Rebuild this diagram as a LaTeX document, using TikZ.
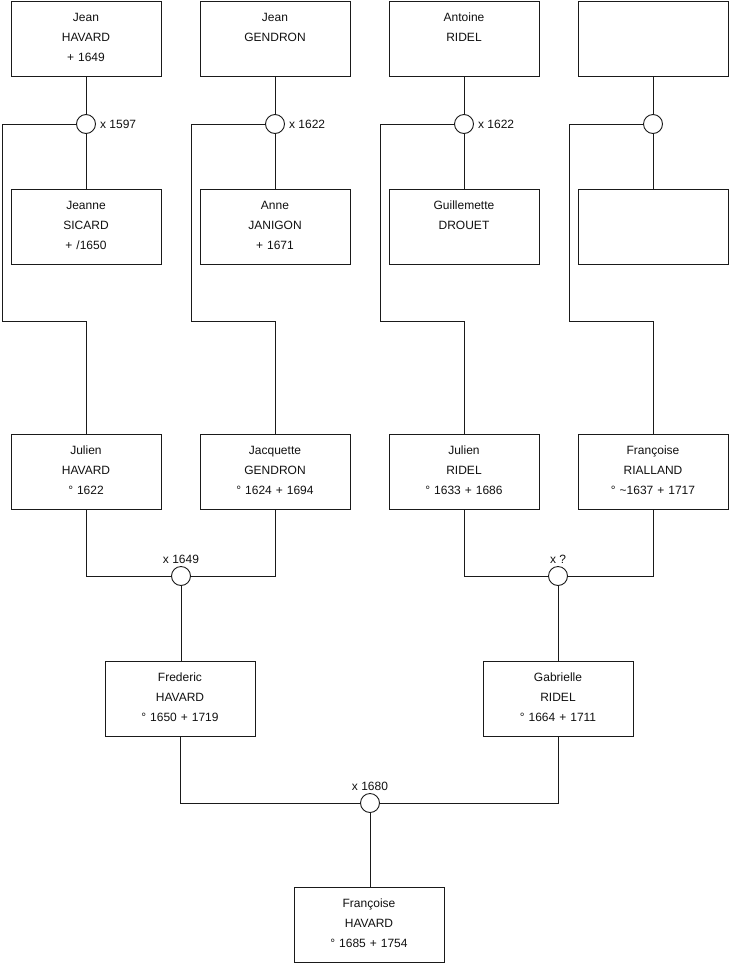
\documentclass[tikz,border=0pt]{standalone}
\usepackage{fontspec}
\setmainfont{Liberation Sans}
\usepackage{xcolor}
\usepackage{tikz}
\usetikzlibrary{calc,positioning}
\definecolor{linec}{HTML}{1A1A1A}
\definecolor{textc}{HTML}{111111}
\tikzset{
  pers/.style={draw=linec,line width=0.9pt,fill=white,anchor=north,inner sep=0pt,
    text width=150pt,minimum height=75pt,text height=20.5pt,text depth=54.5pt,
    align=center,text=textc,font=\fontsize{12}{20}\selectfont},
  wed/.style={draw=linec,line width=0.9pt,fill=white,circle,inner sep=0pt,minimum size=19pt},
  lab/.style={text=textc,font=\fontsize{12}{14}\selectfont,inner sep=2pt},
  ln/.style={draw=linec,line width=0.9pt}
}
\begin{document}
\begin{tikzpicture}[x=1pt,y=-1pt]
\useasboundingbox[fill=white] (0,0) rectangle (740,975);
% ancestors
\node[pers] (jeanH) at (86,1) {Jean\\HAVARD\\+ 1649};
\node[pers] (jeanG) at (275,1) {Jean\\GENDRON};
\node[pers] (antR) at (464,1) {Antoine\\RIDEL};
\node[pers] (topX) at (653,1) {};
\node[pers] (jeanneS) at (86,189) {Jeanne\\SICARD\\+ /1650};
\node[pers] (anneJ) at (275,189) {Anne\\JANIGON\\+ 1671};
\node[pers] (guilD) at (464,189) {Guillemette\\DROUET};
\node[pers] (botX) at (653,189) {};
\node[pers] (julH) at (86,434) {Julien\\HAVARD\\° 1622};
\node[pers] (jacG) at (275,434) {Jacquette\\GENDRON\\° 1624 + 1694};
\node[pers] (julR) at (464,434) {Julien\\RIDEL\\° 1633 + 1686};
\node[pers] (franR) at (653,434) {Françoise\\RIALLAND\\° \textasciitilde1637 + 1717};
\node[pers] (fredH) at (180,661) {Frederic\\HAVARD\\° 1650 + 1719};
\node[pers] (gabR) at (558,661) {Gabrielle\\RIDEL\\° 1664 + 1711};
\node[pers] (franH) at (369,887) {Françoise\\HAVARD\\° 1685 + 1754};
% marriages
\node[wed,label={[lab,inner sep=4pt]right:x 1597}] (m1) at (86,124) {};
\node[wed,label={[lab,inner sep=4pt]right:x 1622}] (m2) at (275,124) {};
\node[wed,label={[lab,inner sep=4pt]right:x 1622}] (m3) at (464,124) {};
\node[wed] (m4) at (653,124) {};
\node[wed,label={[lab]above:x 1649}] (m5) at (181,576) {};
\node[wed,label={[lab]above:x ?}] (m6) at (558,576) {};
\node[wed,label={[lab]above:x 1680}] (m7) at (370,803) {};
\coordinate (k1) at (2,321);
\coordinate (k2) at (191,321);
\coordinate (k3) at (380,321);
\coordinate (k4) at (569,321);
% links
\foreach \a/\m/\b/\k/\c in {jeanH/m1/jeanneS/k1/julH,jeanG/m2/anneJ/k2/jacG,
    antR/m3/guilD/k3/julR,topX/m4/botX/k4/franR}{
  \draw[ln] (\a) -- (\m) -- (\b);
  \draw[ln] (\m.west) -| (\k) -| (\c.north);
}
\draw[ln] (julH.south) |- (m5.west);
\draw[ln] (jacG.south) |- (m5.east);
\draw[ln] (julR.south) |- (m6.west);
\draw[ln] (franR.south) |- (m6.east);
\draw[ln] (m5.south) -- (m5.south |- fredH.north);
\draw[ln] (m6) -- (gabR);
\draw[ln] (fredH.south) |- (m7.west);
\draw[ln] (gabR.south) |- (m7.east);
\draw[ln] (m7.south) -- (m7.south |- franH.north);
\end{tikzpicture}
\end{document}
